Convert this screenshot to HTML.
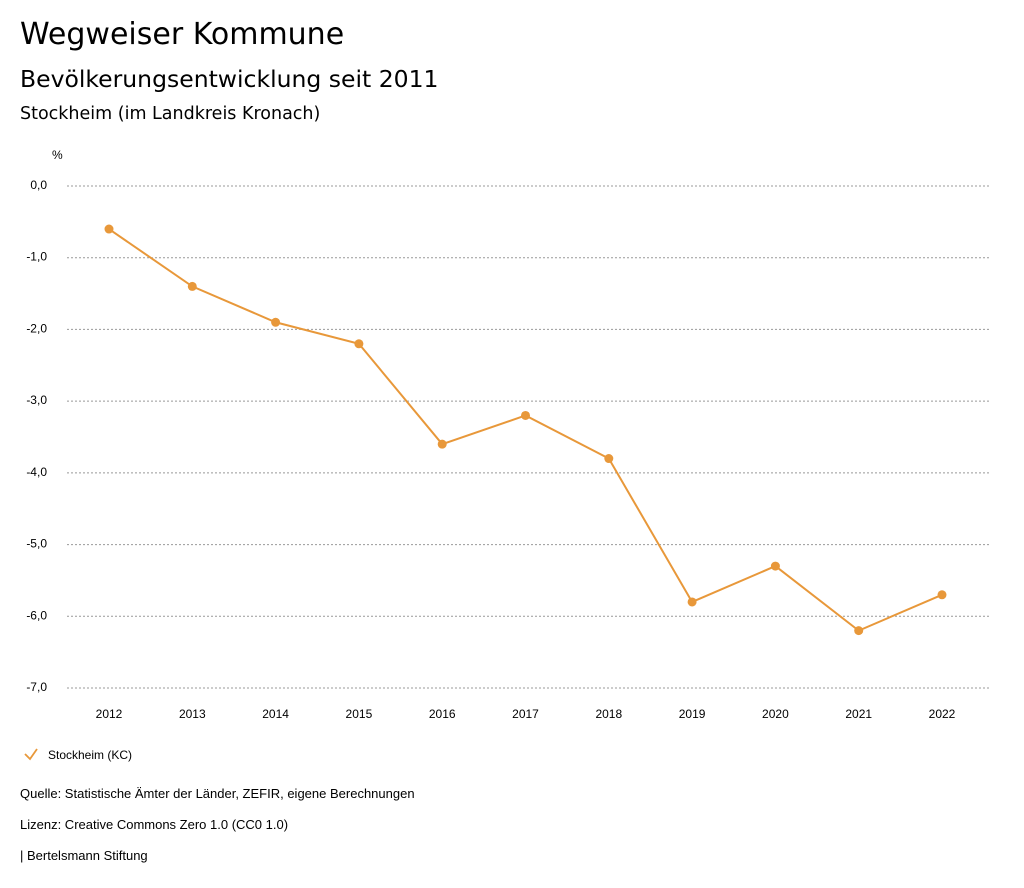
<!DOCTYPE html>
<html><head><meta charset="utf-8">
<style>
body{margin:0;background:#fff;width:1024px;height:888px;overflow:hidden;font-family:"Liberation Sans",sans-serif;color:#000}
.t{position:absolute;left:20px;white-space:nowrap}
.h{font-family:"DejaVu Sans",sans-serif}
</style></head>
<body>
<div class="t h" style="top:17px;font-size:30px">Wegweiser Kommune</div>
<div class="t h" style="top:65px;font-size:23.5px">Bevölkerungsentwicklung seit 2011</div>
<div class="t h" style="top:104px;font-size:17.5px">Stockheim (im Landkreis Kronach)</div>
<svg id="chart" width="1024" height="888" style="position:absolute;left:0;top:0" font-family="Liberation Sans, sans-serif"></svg>
<div class="t" style="top:786px;font-size:13px">Quelle: Statistische Ämter der Länder, ZEFIR, eigene Berechnungen</div>
<div class="t" style="top:817px;font-size:13px">Lizenz: Creative Commons Zero 1.0 (CC0 1.0)</div>
<div class="t" style="top:848px;font-size:13px">| Bertelsmann Stiftung</div>
<script>
const years=["2012","2013","2014","2015","2016","2017","2018","2019","2020","2021","2022"];
const values=[-0.6,-1.4,-1.9,-2.2,-3.6,-3.2,-3.8,-5.8,-5.3,-6.2,-5.7];
const yTicks=[0,-1,-2,-3,-4,-5,-6,-7];
const seriesName="Stockheim (KC)";
const color="#e8983a";
const svg=document.getElementById('chart');
const NS="http://www.w3.org/2000/svg";
function y(v){return 186+(0-v)/7*502;}
function x(i){return 109+i*(942-109)/(years.length-1);}
function mk(tag,attrs,parent){const e=document.createElementNS(NS,tag);for(const k in attrs)e.setAttribute(k,attrs[k]);(parent||svg).appendChild(e);return e;}
const u=mk('text',{x:52,y:159,'font-size':12});u.textContent='%';


yTicks.forEach(v=>{
  const g=mk('line',{x1:67,x2:990,y1:y(v),y2:y(v),stroke:'#999','stroke-dasharray':'2,2','stroke-width':1});
  
  
  const t=mk('text',{x:47,y:y(v)+3,'font-size':12,'text-anchor':'end'});
  t.textContent=v.toFixed(1).replace('.',',');
  
  
});
years.forEach((yr,i)=>{
  const t=mk('text',{x:x(i),y:718,'font-size':12,'text-anchor':'middle'});
  t.textContent=yr;
  
  
});
const pl=mk('polyline',{points:values.map((v,i)=>x(i)+','+y(v)).join(' '),fill:'none',stroke:color,'stroke-width':2});


values.forEach((v,i)=>{
  const c=mk('circle',{cx:x(i),cy:y(v),r:4.5,fill:color});
  
  
});
const lg=mk('g',{});


mk('polyline',{points:'25,754 30,759 37,749',fill:'none',stroke:color,'stroke-width':1.8},lg);
const lt=mk('text',{x:48,y:759,'font-size':12},lg);lt.textContent=seriesName;
</script>
</body></html>
